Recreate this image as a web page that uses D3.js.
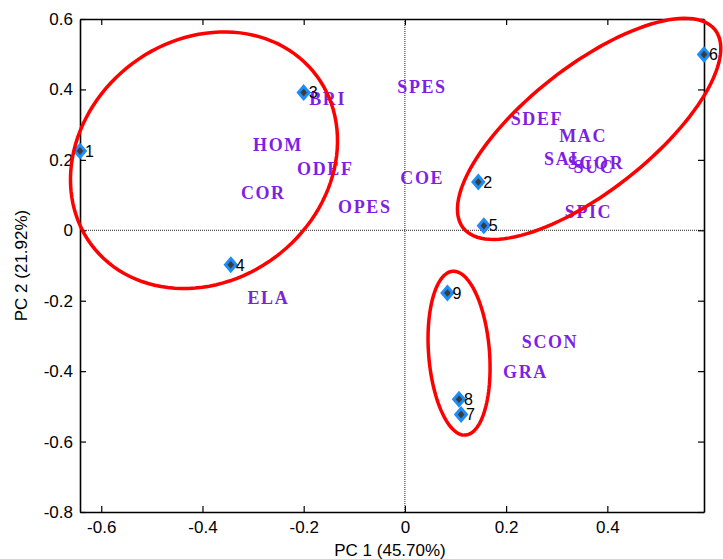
<!DOCTYPE html>
<html>
<head>
<meta charset="utf-8">
<script src="https://cdn.jsdelivr.net/npm/d3@7"></script>
<style>
  body { margin: 0; background: #fff; }
  svg { display: block; font-family: "Liberation Sans", Arial, sans-serif; }
</style>
</head>
<body>
<div id="chart"></div>
<script>
// Sample scores (PC 1, PC 2)
const sampleIds = [1, 2, 3, 4, 5, 6, 7, 8, 9];
const pc1 = [-0.642, 0.145, -0.200, -0.344, 0.156, 0.591, 0.111, 0.107, 0.084];
const pc2 = [0.225, 0.137, 0.391, -0.098, 0.013, 0.499, -0.523, -0.480, -0.178];

// Variable loadings (text labels)
const varNames = ["BRI", "HOM", "ODEF", "COR", "OPES", "SPES", "SDEF", "MAC", "SAL",
                  "SCOR", "SUC", "COE", "SPIC", "ELA", "SCON", "GRA"];
const loadX = [-0.189, -0.300, -0.213, -0.324, -0.132, -0.015, 0.209, 0.305, 0.275,
               0.322, 0.333, -0.009, 0.316, -0.311, 0.231, 0.194];
const loadY = [0.370, 0.239, 0.171, 0.102, 0.061, 0.403, 0.313, 0.265, 0.200,
               0.188, 0.176, 0.145, 0.047, -0.195, -0.320, -0.407];

// Group ellipses: centre and two conjugate half-axis vectors, in data units
const groupCx = [-0.397, 0.364, 0.107];
const groupCy = [0.199, 0.288, -0.349];
const groupU = [[0.223, 0.239], [0.249, 0.281], [0.0613, -0.0414]];
const groupV = [[-0.141, 0.275], [-0.0755, 0.140], [0, -0.229]];

const xTicks = [-0.6, -0.4, -0.2, 0, 0.2, 0.4];
const yTicks = [-0.8, -0.6, -0.4, -0.2, 0, 0.2, 0.4, 0.6];

const width = 723, height = 559;
const margin = { top: 19, right: 19, bottom: 47, left: 80 };
const innerW = width - margin.left - margin.right;
const innerH = height - margin.top - margin.bottom;

const svg = d3.select("#chart")
  .append("svg")
  .attr("width", width)
  .attr("height", height);

const g = svg.append("g")
  .attr("transform", `translate(${margin.left},${margin.top})`);

const x = d3.scaleLinear().domain([-0.642, 0.591]).range([0, innerW]);
const y = d3.scaleLinear().domain([-0.8, 0.6]).range([innerH, 0]);

const fmt = d => d === 0 ? "0" : d.toFixed(1);

// zero lines
g.append("line")
  .attr("x1", x(0)).attr("x2", x(0))
  .attr("y1", 0).attr("y2", innerH)
  .attr("stroke", "#222").attr("stroke-width", 1)
  .attr("stroke-dasharray", "1,1");
g.append("line")
  .attr("x1", 0).attr("x2", innerW)
  .attr("y1", y(0)).attr("y2", y(0))
  .attr("stroke", "#222").attr("stroke-width", 1)
  .attr("stroke-dasharray", "1,1");

// axes (box with inward ticks)
const xAxis = g.append("g")
  .attr("transform", `translate(0,${innerH})`)
  .call(d3.axisBottom(x).tickValues(xTicks).tickFormat(fmt)
    .tickSizeInner(-6).tickSizeOuter(0).tickPadding(9));
const yAxis = g.append("g")
  .call(d3.axisLeft(y).tickValues(yTicks).tickFormat(fmt)
    .tickSizeInner(-6).tickSizeOuter(0).tickPadding(7));
const topAxis = g.append("g")
  .call(d3.axisTop(x).tickValues(xTicks).tickFormat("")
    .tickSizeInner(-6).tickSizeOuter(0));
const rightAxis = g.append("g")
  .attr("transform", `translate(${innerW},0)`)
  .call(d3.axisRight(y).tickValues(yTicks).tickFormat("")
    .tickSizeInner(-6).tickSizeOuter(0));

[xAxis, yAxis, topAxis, rightAxis].forEach(a => {
  a.select(".domain").attr("stroke", "#000").attr("stroke-width", 1.6);
  a.selectAll(".tick line").attr("stroke", "#000").attr("stroke-width", 1.2);
  a.selectAll(".tick text")
    .attr("fill", "#000")
    .style("font-family", "'Liberation Sans', Arial, sans-serif")
    .style("font-size", "17px");
});

// axis titles
svg.append("text")
  .attr("x", margin.left + innerW / 2 - 2)
  .attr("y", 556)
  .attr("text-anchor", "middle")
  .style("font-size", "17px")
  .text("PC 1 (45.70%)");
svg.append("text")
  .attr("transform", `translate(27,${margin.top + innerH / 2}) rotate(-90)`)
  .attr("text-anchor", "middle")
  .style("font-size", "17px")
  .text("PC 2 (21.92%)");

// variable labels
g.selectAll(".var")
  .data(varNames)
  .enter()
  .append("text")
  .attr("class", "var")
  .attr("x", (d, i) => x(loadX[i]))
  .attr("y", (d, i) => y(loadY[i]))
  .attr("dy", "0.26em")
  .attr("fill", "#7F1FE5")
  .style("font-family", "'Liberation Serif', 'Times New Roman', serif")
  .style("font-weight", "bold")
  .style("font-size", "18px")
  .style("letter-spacing", "1.6px")
  .text(d => d);

// sample markers
const diamond = "M0,-6.2L5.3,0L0,6.2L-5.3,0Z";
g.selectAll(".pt")
  .data(sampleIds)
  .enter()
  .append("path")
  .attr("class", "pt")
  .attr("d", diamond)
  .attr("transform", (d, i) => `translate(${x(pc1[i])},${y(pc2[i])})`)
  .attr("fill", "#3c3c3c")
  .attr("stroke", "#1E8CF5")
  .attr("stroke-width", 3)
  .attr("stroke-linejoin", "miter");

g.selectAll(".num")
  .data(sampleIds)
  .enter()
  .append("text")
  .attr("class", "num")
  .attr("x", (d, i) => x(pc1[i]) + 5)
  .attr("y", (d, i) => y(pc2[i]))
  .attr("dy", "0.36em")
  .attr("fill", "#000")
  .style("font-size", "16px")
  .text(d => d);

// group ellipses
const line = d3.line().curve(d3.curveLinearClosed);
groupCx.forEach((cx, k) => {
  const pts = d3.range(0, 120).map(j => {
    const t = j / 120 * 2 * Math.PI;
    const dx = groupU[k][0] * Math.cos(t) + groupV[k][0] * Math.sin(t);
    const dy = groupU[k][1] * Math.cos(t) + groupV[k][1] * Math.sin(t);
    return [x(cx + dx), y(groupCy[k] + dy)];
  });
  g.append("path")
    .attr("d", line(pts))
    .attr("fill", "none")
    .attr("stroke", "#FF0000")
    .attr("stroke-width", 3.5);
});
</script>
</body>
</html>
